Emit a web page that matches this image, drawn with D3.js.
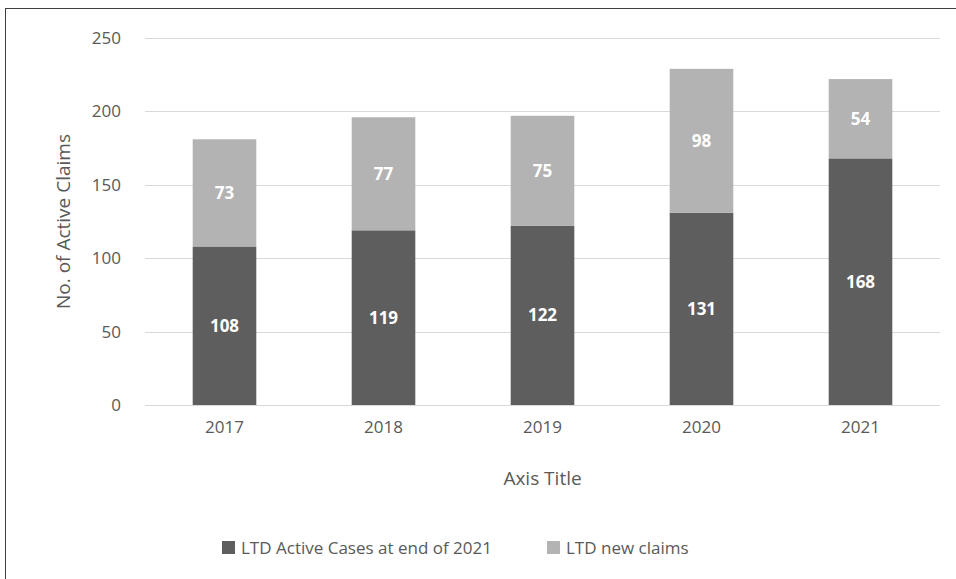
<!DOCTYPE html>
<html>
<head>
<meta charset="utf-8">
<script src="https://cdn.jsdelivr.net/npm/d3@7/dist/d3.min.js"></script>
<style>
  body { margin: 0; background: #fff; }
  svg text { font-family: "Open Sans", "Noto Sans", sans-serif; }
</style>
</head>
<body>
<div id="chart"></div>
<script>

let years = ["2017", "2018", "2019", "2020", "2021"];
let activeCases = [108, 119, 122, 131, 168];
let newClaims = [73, 77, 75, 98, 54];
let yTicks = [0, 50, 100, 150, 200, 250];
let seriesNames = ["LTD Active Cases at end of 2021", "LTD new claims"];
let seriesColors = ["#5e5e5e", "#b3b3b3"];

let svgWidth = 956, svgHeight = 579;
let margin = {top: 38, right: 16, bottom: 174, left: 145};
let width = svgWidth - margin.left - margin.right,
    height = svgHeight - margin.top - margin.bottom;

let svg = d3.select("#chart").append("svg")
    .attr("width", svgWidth)
    .attr("height", svgHeight);

// outer chart border
svg.append("rect")
    .attr("x", 5.5).attr("y", 8.5)
    .attr("width", svgWidth + 10).attr("height", svgHeight + 10)
    .attr("fill", "none")
    .attr("stroke", "#404040")
    .attr("stroke-width", 1);

let g = svg.append("g")
    .attr("transform", "translate(" + margin.left + "," + margin.top + ")");

let x = d3.scaleBand().domain(years).range([0, width]).paddingInner(0.6).paddingOuter(0.3);
let y = d3.scaleLinear().domain([0, 250]).range([height, 0]);

// gridlines
g.append("g")
    .selectAll("line")
    .data(yTicks)
    .enter().append("line")
    .attr("x1", 0).attr("x2", width)
    .attr("y1", d => Math.round(y(d)) + 0.5)
    .attr("y2", d => Math.round(y(d)) + 0.5)
    .attr("stroke", "#d9d9d9")
    .attr("stroke-width", 1);

// y axis labels
let yAxis = g.append("g")
    .call(d3.axisLeft(y).tickValues(yTicks).tickSize(0).tickPadding(24));
yAxis.select(".domain").remove();
yAxis.selectAll("text")
    .attr("font-size", "17px")
    .attr("fill", "#595959");

// x axis labels
let xAxis = g.append("g")
    .attr("transform", "translate(0," + height + ")")
    .call(d3.axisBottom(x).tickSize(0).tickPadding(16));
xAxis.select(".domain").remove();
xAxis.selectAll("text")
    .attr("font-size", "17px")
    .attr("fill", "#595959");

// stacked bars
let stackData = years.map((yr, i) => ({year: yr, active: activeCases[i], claims: newClaims[i]}));
let stack = d3.stack().keys(["active", "claims"]);
let layers = stack(stackData);

let layer = g.selectAll(".layer")
    .data(layers)
    .enter().append("g")
    .attr("fill", (d, i) => seriesColors[i]);

layer.selectAll("rect")
    .data(d => d)
    .enter().append("rect")
    .attr("x", d => x(d.data.year))
    .attr("y", d => y(d[1]))
    .attr("width", x.bandwidth())
    .attr("height", d => y(d[0]) - y(d[1]));

layer.selectAll("text")
    .data(d => d)
    .enter().append("text")
    .text(d => d[1] - d[0])
    .attr("x", d => x(d.data.year) + x.bandwidth() / 2)
    .attr("y", d => (y(d[0]) + y(d[1])) / 2)
    .attr("dy", "0.35em")
    .attr("text-anchor", "middle")
    .attr("font-size", "17px")
    .attr("font-weight", "bold")
    .attr("fill", "#ffffff");

// axis titles
svg.append("text")
    .attr("transform", "translate(70," + (margin.top + height / 2) + ") rotate(-90)")
    .attr("text-anchor", "middle")
    .attr("font-size", "19px")
    .attr("fill", "#595959")
    .text("No. of Active Claims");

svg.append("text")
    .attr("x", margin.left + width / 2)
    .attr("y", 485)
    .attr("text-anchor", "middle")
    .attr("font-size", "19px")
    .attr("fill", "#595959")
    .text("Axis Title");

// legend
let legendX = [222, 547];
let legend = svg.selectAll(".legend")
    .data(seriesNames)
    .enter().append("g")
    .attr("transform", (d, i) => "translate(" + legendX[i] + ",541)");

legend.append("rect")
    .attr("width", 13).attr("height", 13)
    .attr("fill", (d, i) => seriesColors[i]);

legend.append("text")
    .attr("x", 19).attr("y", 7)
    .attr("dy", "0.35em")
    .attr("font-size", "17px")
    .attr("fill", "#595959")
    .text(d => d);

</script>
</body>
</html>
